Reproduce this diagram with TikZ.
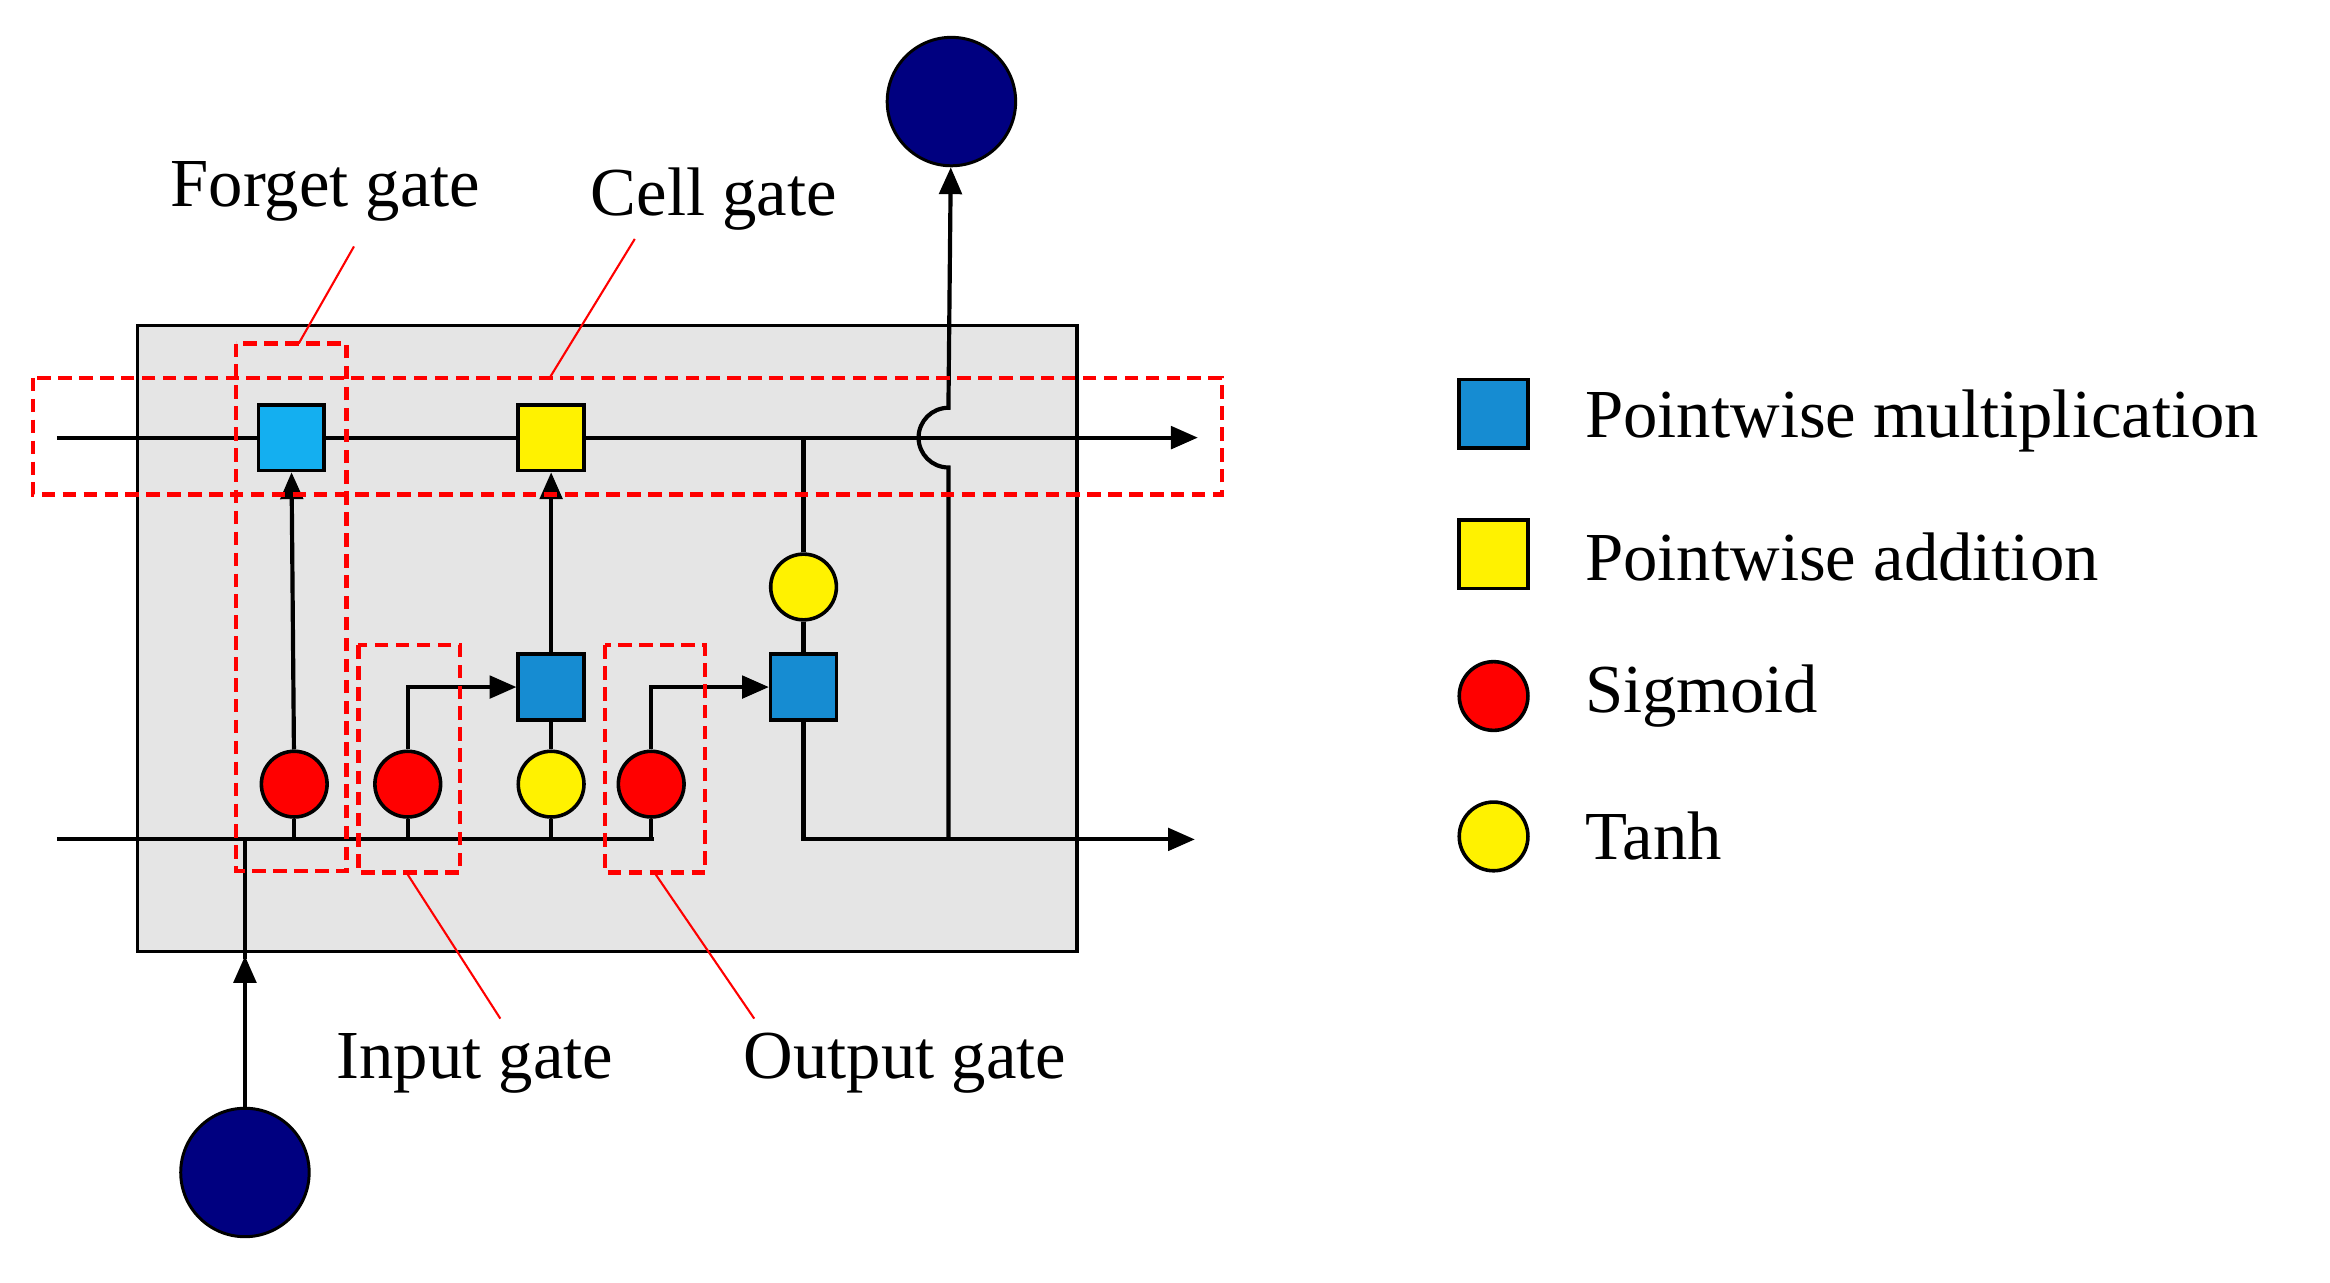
\documentclass[tikz,border=0pt]{standalone}
\usepackage{fontspec}
\setmainfont{Liberation Serif}
\usetikzlibrary{arrows.meta}
\definecolor{mulblue}{RGB}{22,140,210}
\definecolor{fmblue}{RGB}{20,175,240}
\begin{document}
\begin{tikzpicture}[x=1pt,y=-1pt,line width=2.8pt,
  arr/.style={-{Triangle[length=18pt,width=15pt]}},
  sq/.style={draw,line width=2.4pt,minimum size=44pt,inner sep=0pt},
  mul/.style={sq,fill=mulblue},
  add/.style={sq,fill=yellow},
  sig/.style={circle,draw,line width=2.4pt,minimum size=44pt,inner sep=0pt,fill=red},
  tanh/.style={circle,draw,line width=2.4pt,minimum size=44pt,inner sep=0pt,fill=yellow},
  io/.style={circle,draw,line width=2pt,minimum size=86pt,inner sep=0pt,fill=blue!50!black},
  gatebox/.style={draw=red,line width=3pt,dash pattern=on 9pt off 5pt},
  lab/.style={font=\fontsize{46}{52}\selectfont,inner sep=0pt},
  pointer/.style={draw=red,line width=1.4pt}]
\useasboundingbox (0,0) rectangle (1560,859);
\node[draw,fill=gray!20,line width=2.4pt,minimum width=629pt,minimum height=419pt,inner sep=0pt] (box) at (406.5,427.5) {};
% nodes
\node[mul,fill=fmblue] (fm) at (195,293) {};
\node[add] (ca) at (369,293) {};
\node[mul] (im) at (369,460) {};
\node[mul] (om) at (538,460) {};
\node[sig] (fs) at (197,525) {};
\node[sig] (is) at (273,525) {};
\node[tanh] (it) at (369,525) {};
\node[sig] (os) at (436,525) {};
\node[tanh] (ot) at (538,393) {};
\node[io] (in) at (164,785) {};
\node[io] (out) at (637,68) {};
\coordinate (tl) at (38,293); \coordinate (tr) at (802,293);
\coordinate (bl) at (38,562); \coordinate (bj) at (438,562);
\coordinate (br) at (800,562); \coordinate (oj) at (538,293);
% lines
\draw (tl) -- (fm) -- (ca);
\draw[arr] (ca) -- (tr);
\draw (bl) -- (bj);
\draw[arr] (in) -- (164,640);
\draw (164,642) -- (164,562);
\draw[arr] (fs) -- (fm);
\draw[arr] (im) -- (ca);
\draw (it) -- (im);
\draw[arr] (is.north) |- (im.west);
\draw[arr] (os.north) |- (om.west);
\draw (oj) -- (ot) -- (om);
\draw[arr] (om.south) |- (br);
\draw[arr] (635,562) -- (635,313) arc[start angle=-90,end angle=-270,radius=20pt]
   -- (out);
\foreach \n in {fs,is,it,os} \draw (\n.south) -- (\n.south |- 0,562);
% dashed gate boxes
\draw[gatebox] (158,230) rectangle (232,583);
\draw[gatebox] (22,253) rectangle (818,331);
\draw[gatebox] (240,432) rectangle (308,584);
\draw[gatebox] (405,432) rectangle (472,584);
% labels
\node[lab] (lf) at (218,128) {Forget gate};
\node[lab] (lc) at (478,133) {Cell gate};
\node[lab] (li) at (318,712) {Input gate};
\node[lab] (lo) at (606,712) {Output gate};
\draw[pointer] (237,165) -- (200,230);
\draw[pointer] (425,160) -- (368,253);
\draw[pointer] (272,584) -- (335,682);
\draw[pointer] (438,584) -- (505,682);
% legend
\node[mul,minimum size=46pt] (k1) at (1000,277) {};
\node[add,minimum size=46pt] (k2) at (1000,371) {};
\node[sig,minimum size=46pt] (k3) at (1000,466) {};
\node[tanh,minimum size=46pt] (k4) at (1000,560) {};
\node[lab,anchor=west] (t1) at (1060,282) {Pointwise multiplication};
\node[lab,anchor=west] (t2) at (1060,373) {Pointwise addition};
\node[lab,anchor=west] (t3) at (1060,466) {Sigmoid};
\node[lab,anchor=west] (t4) at (1060,560) {Tanh};
\end{tikzpicture}
\end{document}
